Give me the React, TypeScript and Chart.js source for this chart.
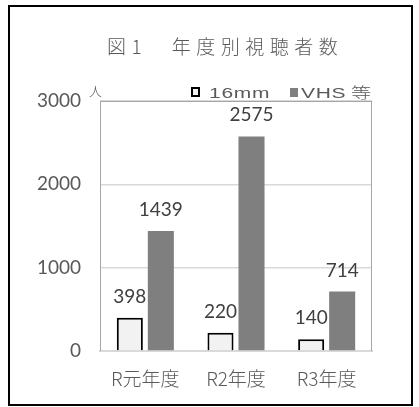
import React, { useEffect, useRef } from "react";
import { Chart, registerables } from "chart.js";

Chart.register(...registerables);

const categories = ["R元年度", "R2年度", "R3年度"];
const series16mm = [398, 220, 140];
const seriesVHS = [1439, 2575, 714];
const seriesNames = ["16mm", "VHS等"];
const yTicks = [0, 1000, 2000, 3000];
const titleText = "図1\u3000年度別視聴者数";
const unitText = "人";

const JP = '"Noto Sans CJK JP", "Noto Sans", sans-serif';
const NUM = 'Lato, "Noto Sans CJK JP", sans-serif';
const LEG = '"Liberation Sans", "Noto Sans CJK JP", sans-serif';

function stretchedText(ctx: any, text: string, x: number, y: number, sx: number) {
  ctx.save();
  ctx.translate(x, y);
  ctx.scale(sx, 1);
  ctx.fillText(text, 0, 0);
  ctx.restore();
}

const decorPlugin = {
  id: "decor",
  beforeDraw(chart: any) {
    const ctx = chart.ctx;
    ctx.save();
    ctx.fillStyle = "#ffffff";
    ctx.fillRect(0, 0, chart.width, chart.height);
    ctx.restore();
  },
  afterDraw(chart: any) {
    const ctx = chart.ctx;
    const a = chart.chartArea;
    ctx.save();
    ctx.strokeStyle = "#000000";
    ctx.lineWidth = 2;
    ctx.strokeRect(9, 6, 403, 399);
    ctx.strokeStyle = "#a6a6a6";
    ctx.lineWidth = 1;
    ctx.beginPath();
    ctx.moveTo(a.left + 0.5, a.top);
    ctx.lineTo(a.left + 0.5, a.bottom);
    ctx.moveTo(a.right - 0.5, a.top);
    ctx.lineTo(a.right - 0.5, a.bottom);
    ctx.moveTo(a.left, a.top + 0.5);
    ctx.lineTo(a.right, a.top + 0.5);
    ctx.stroke();
    // title
    ctx.fillStyle = "#595959";
    ctx.font = "300 19px " + JP;
    (ctx as any).letterSpacing = "5.5px";
    ctx.textAlign = "left";
    ctx.textBaseline = "middle";
    ctx.fillText(titleText, 107, 47);
    // unit
    (ctx as any).letterSpacing = "0px";
    ctx.font = "300 13px " + JP;
    ctx.fillText(unitText, 89, 91);
    // legend
    ctx.fillStyle = "#f2f2f2";
    ctx.fillRect(192, 88, 7, 8);
    ctx.strokeStyle = "#000000";
    ctx.lineWidth = 2;
    ctx.strokeRect(192, 88, 7, 8);
    ctx.fillStyle = "#7f7f7f";
    ctx.fillRect(290, 88, 8, 9);
    ctx.fillStyle = "#595959";
    ctx.textBaseline = "alphabetic";
    ctx.font = "15px " + LEG;
    (ctx as any).letterSpacing = "0.5px";
    stretchedText(ctx, seriesNames[0], 209, 98, 1.4);
    stretchedText(ctx, "VHS", 301, 98, 1.4);
    ctx.font = "300 15px " + JP;
    (ctx as any).letterSpacing = "0px";
    stretchedText(ctx, "等", 351, 98, 1.35);
    // data labels
    ctx.font = "19px " + NUM;
    ctx.fillStyle = "#404040";
    ctx.textAlign = "center";
    ctx.textBaseline = "alphabetic";
    chart.data.datasets.forEach((ds: any, i: number) => {
      const meta = chart.getDatasetMeta(i);
      meta.data.forEach((el: any, j: number) => {
        ctx.fillText(String(ds.data[j]), el.x, el.y - 15);
      });
    });
    ctx.restore();
  },
};

export default function App() {
  const ref = useRef<HTMLCanvasElement>(null);
  useEffect(() => {
    const chart = new Chart(ref.current!, {
      type: "bar",
      data: {
        labels: categories,
        datasets: [
          {
            label: seriesNames[0],
            data: series16mm,
            backgroundColor: "#f2f2f2",
            borderColor: "#000000",
            borderWidth: 2,
            categoryPercentage: 0.684,
            barPercentage: 0.84,
          },
          {
            label: seriesNames[1],
            data: seriesVHS,
            backgroundColor: "#7f7f7f",
            borderWidth: 0,
            categoryPercentage: 0.684,
            barPercentage: 0.84,
          },
        ],
      },
      options: {
        responsive: false,
        animation: false,
        layout: { padding: { left: 0, top: 101, right: 47, bottom: 0 } },
        plugins: { legend: { display: false }, title: { display: false }, tooltip: { enabled: false } },
        scales: {
          x: {
            grid: { display: false, drawTicks: false },
            border: { color: "#d9d9d9", width: 2 },
            ticks: { color: "#595959", font: { family: JP, size: 19, weight: "300" }, padding: 16 },
            afterFit: (s: any) => { s.height = 56; },
          },
          y: {
            min: yTicks[0],
            max: yTicks[yTicks.length - 1],
            afterBuildTicks: (s: any) => { s.ticks = yTicks.map((v) => ({ value: v })); },
            grid: { color: "#d9d9d9", lineWidth: 1.5, drawTicks: false },
            border: { display: false },
            ticks: { color: "#595959", font: { family: NUM, size: 19 }, padding: 19, callback: (v: any) => String(v) },
            afterFit: (s: any) => { s.width = 100; },
          },
        },
      },
      plugins: [decorPlugin],
    });
    return () => chart.destroy();
  }, []);
  return (
    <div style={{ position: "absolute", left: 0, top: 0, width: 419, height: 407 }}>
      <canvas ref={ref} width={419} height={407} />
    </div>
  );
}
